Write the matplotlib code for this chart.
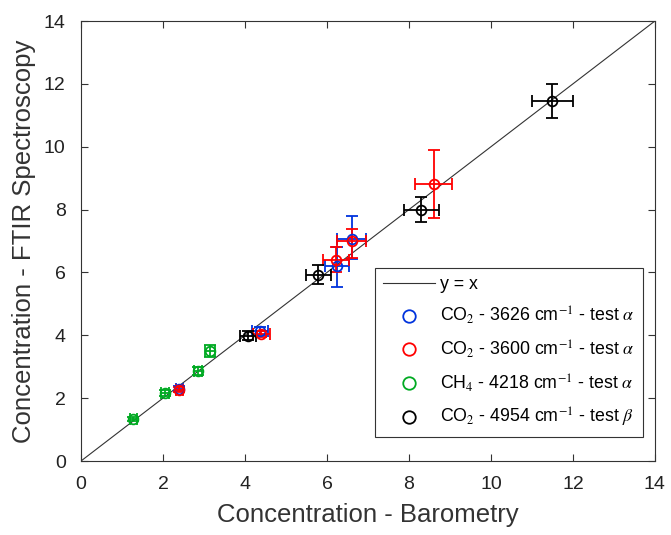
import numpy as np
import matplotlib
matplotlib.use("Agg")
import matplotlib.pyplot as plt
from matplotlib.lines import Line2D

plt.rcParams["font.family"] = ["Liberation Sans", "DejaVu Sans"]
plt.rcParams["mathtext.fontset"] = "stix"

# --- data: (barometry, FTIR, x-err, y-err low, y-err high) ---
co2_3626_x = [2.4, 4.37, 6.25, 6.6]
co2_3626_y = [2.3, 4.13, 6.2, 7.05]
co2_3626_xe = [0.08, 0.2, 0.3, 0.35]
co2_3626_ylo = [0.08, 0.12, 0.65, 0.62]
co2_3626_yhi = [0.08, 0.12, 0.62, 0.75]

co2_3600_x = [2.4, 4.4, 6.23, 6.6, 8.6]
co2_3600_y = [2.27, 4.03, 6.4, 7.0, 8.8]
co2_3600_xe = [0.08, 0.2, 0.32, 0.35, 0.45]
co2_3600_ylo = [0.08, 0.1, 0.38, 0.55, 1.07]
co2_3600_yhi = [0.08, 0.1, 0.42, 0.38, 1.1]

ch4_x = [1.28, 2.05, 2.85, 3.15]
ch4_y = [1.34, 2.17, 2.86, 3.5]
ch4_xe = [0.08, 0.1, 0.1, 0.12]
ch4_ye = [0.06, 0.1, 0.12, 0.18]

co2_4954_x = [4.08, 5.79, 8.3, 11.5]
co2_4954_y = [3.99, 5.93, 8.0, 11.45]
co2_4954_xe = [0.2, 0.3, 0.43, 0.5]
co2_4954_ye = [0.15, 0.3, 0.4, 0.55]

fig = plt.figure(figsize=(6.71, 5.35), dpi=100)
ax = fig.add_axes([0.1207, 0.1383, 0.8553, 0.8224])

ax.plot([0, 14], [0, 14], color="#333333", lw=0.8, label="y = x")

eb = dict(fmt="o", ms=7, mfc="none", mew=1.3, elinewidth=1.3, capsize=4, capthick=1.3)
ax.errorbar(co2_3626_x, co2_3626_y, xerr=co2_3626_xe, yerr=[co2_3626_ylo, co2_3626_yhi],
            color="#0033dd", label=r"CO$_2$ - 3626 cm$^{-1}$ - test $\alpha$", **eb)
ax.errorbar(co2_3600_x, co2_3600_y, xerr=co2_3600_xe, yerr=[co2_3600_ylo, co2_3600_yhi],
            color="#ff0000", label=r"CO$_2$ - 3600 cm$^{-1}$ - test $\alpha$", **eb)
ax.errorbar(ch4_x, ch4_y, xerr=ch4_xe, yerr=ch4_ye,
            color="#00aa22", label=r"CH$_4$ - 4218 cm$^{-1}$ - test $\alpha$", **eb)
ax.errorbar(co2_4954_x, co2_4954_y, xerr=co2_4954_xe, yerr=co2_4954_ye,
            color="#000000", label=r"CO$_2$ - 4954 cm$^{-1}$ - test $\beta$", **eb)

ax.set_xlim(0, 14); ax.set_ylim(0, 14)
ax.set_xticks(np.arange(0, 15, 2)); ax.set_yticks(np.arange(0, 15, 2))
ax.tick_params(direction="in", top=True, right=True, labelsize=14, colors="#333333",
               labelcolor="#222222", length=5, pad=11)
for s in ax.spines.values():
    s.set_color("#333333")
ax.set_xlabel("Concentration - Barometry", fontsize=18.5, color="#333333", labelpad=7)
ax.set_ylabel("Concentration - FTIR Spectroscopy", fontsize=18.5, color="#333333", labelpad=6)

h, l = ax.get_legend_handles_labels()
cols = ["#0033dd", "#ff0000", "#00aa22", "#000000"]
hh = [h[0]] + [Line2D([], [], ls="none", marker="o", ms=9, mfc="none", mew=1.3, color=c) for c in cols]
leg = ax.legend(hh, l, loc="lower right", bbox_to_anchor=(0.979, 0.0545), borderaxespad=0,
                fontsize=12.8, fancybox=False, edgecolor="#333333", framealpha=1,
                labelspacing=0.68, handlelength=2.9, handletextpad=0.3, borderpad=0.45)
leg.get_frame().set_linewidth(0.8)

plt.savefig("out.png", dpi=100)
